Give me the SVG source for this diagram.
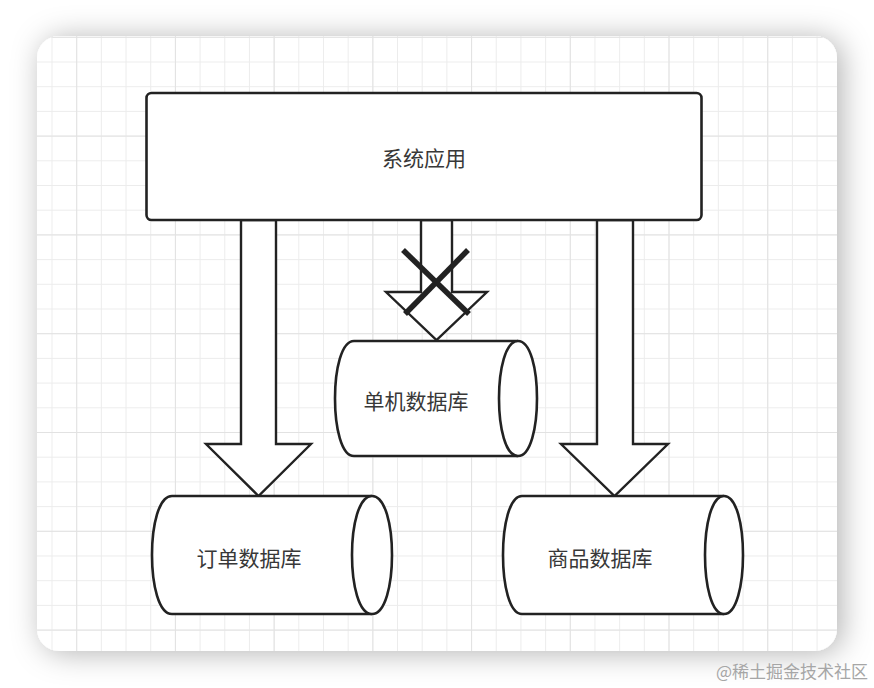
<svg xmlns="http://www.w3.org/2000/svg" width="874" height="688" viewBox="0 0 874 688">
  <style>
    .shape { fill: #ffffff; stroke: #222222; stroke-width: 2.6; stroke-linejoin: round; }
    .arrow { fill: #ffffff; stroke: #222222; stroke-width: 2.4; stroke-linejoin: miter; }
    .cross { stroke: #222222; stroke-width: 5.5; stroke-linecap: butt; }
    .label { font-family: "Noto Sans CJK SC", "Noto Sans", sans-serif; font-size: 21px; fill: #383838; text-anchor: middle; dominant-baseline: central; }
    .mark { font-family: "Noto Sans CJK SC", "Noto Sans", sans-serif; font-size: 17px; fill: #a6a6a6; text-anchor: end; }
  </style>
  <defs>
    <filter id="shadow" x="-15%" y="-15%" width="130%" height="130%">
      <feDropShadow dx="5" dy="2" stdDeviation="15" flood-color="#000000" flood-opacity="0.3"/>
    </filter>
    <pattern id="grid" patternUnits="userSpaceOnUse" x="51.5" y="61.5" width="24.68" height="24.7">
      <rect x="0" y="0" width="1" height="24.7" fill="#ececec"/>
      <rect x="0" y="0" width="24.68" height="1" fill="#ececec"/>
    </pattern>
    <pattern id="gridmajor" patternUnits="userSpaceOnUse" x="76.2" y="135.6" width="98.72" height="98.8">
      <rect x="0" y="0" width="1" height="98.8" fill="#e2e2e2"/>
      <rect x="0" y="0" width="98.72" height="1" fill="#e2e2e2"/>
    </pattern>
  </defs>

  <rect x="0" y="0" width="874" height="688" fill="#ffffff"/>
  <g id="card">
    <rect x="37" y="36" width="800" height="615" rx="22" ry="22" fill="#ffffff" filter="url(#shadow)"/>
    <rect x="37" y="36" width="800" height="615" rx="22" ry="22" fill="url(#grid)"/>
    <rect x="37" y="36" width="800" height="615" rx="22" ry="22" fill="url(#gridmajor)"/>
  </g>

  <g id="connectors">
    <polygon class="arrow" points="241,220 276,220 276,444 311,444 258.5,496 206,444 241,444"/>
    <polygon class="arrow" points="421,220 452,220 452,292 487,292 436.5,340 386,292 421,292"/>
    <polygon class="arrow" points="597,220 633,220 633,444 668,444 614.5,496 561,444 597,444"/>
    <line class="cross" x1="403" y1="250" x2="469" y2="314"/>
    <line class="cross" x1="468" y1="250" x2="405" y2="314"/>
  </g>

  <g id="app">
    <rect class="shape" x="146.5" y="93" width="555" height="127" rx="5" ry="5"/>
    <text class="label" x="424" y="157">系统应用</text>
  </g>

  <g id="standalone-db">
    <path class="shape" d="M354,341 L518,341 C543.33,341 543.33,456 518,456 L354,456 C328.67,456 328.67,341 354,341 Z"/>
    <path class="shape" fill="none" d="M518,341 C492.67,341 492.67,456 518,456"/>
    <text class="label" x="416" y="400">单机数据库</text>
  </g>

  <g id="order-db">
    <path class="shape" d="M172,496 L372,496 C398.67,496 398.67,614 372,614 L172,614 C145.33,614 145.33,496 172,496 Z"/>
    <path class="shape" fill="none" d="M372,496 C345.33,496 345.33,614 372,614"/>
    <text class="label" x="249" y="557">订单数据库</text>
  </g>

  <g id="product-db">
    <path class="shape" d="M522,496 L724,496 C749.33,496 749.33,614 724,614 L522,614 C496.67,614 496.67,496 522,496 Z"/>
    <path class="shape" fill="none" d="M724,496 C698.67,496 698.67,614 724,614"/>
    <text class="label" x="600" y="557">商品数据库</text>
  </g>

  <text class="mark" x="868" y="678">@稀土掘金技术社区</text>
</svg>
